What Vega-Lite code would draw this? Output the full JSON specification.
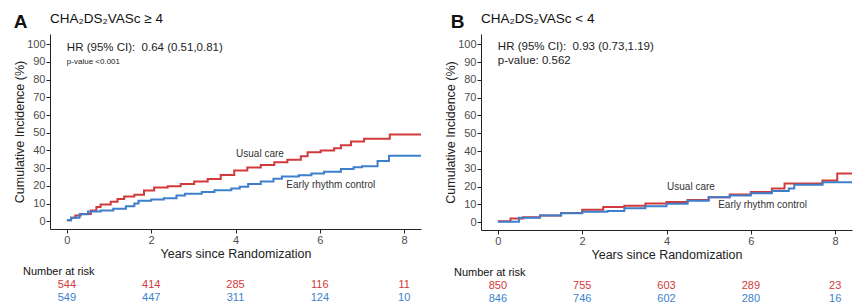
{
  "$schema": "https://vega.github.io/schema/vega-lite/v6.json",
  "background": "white",
  "padding": {"left": 13, "top": 11, "right": 2, "bottom": 0},
  "config": {
    "font": "Liberation Sans",
    "view": {"stroke": null},
    "axis": {
      "grid": false,
      "domainColor": "#222222",
      "tickColor": "#222222",
      "tickSize": 4,
      "labelColor": "#4d4d4d",
      "labelFontSize": 11,
      "labelOverlap": false,
      "titleFontSize": 12.5,
      "titleFontWeight": "normal",
      "titleColor": "#222222",
      "labelPadding": 1
    },
    "title": {"color": "#111111"}
  },
  "datasets": {
    "curvesA": [
      {"group": "Usual care", "t": 0, "v": 0.5},
      {"group": "Usual care", "t": 0.1, "v": 2},
      {"group": "Usual care", "t": 0.2, "v": 3.2},
      {"group": "Usual care", "t": 0.33, "v": 4.1},
      {"group": "Usual care", "t": 0.57, "v": 6},
      {"group": "Usual care", "t": 0.7, "v": 8},
      {"group": "Usual care", "t": 0.8, "v": 9.4},
      {"group": "Usual care", "t": 1.04, "v": 11},
      {"group": "Usual care", "t": 1.2, "v": 12.5},
      {"group": "Usual care", "t": 1.36, "v": 14},
      {"group": "Usual care", "t": 1.6, "v": 15},
      {"group": "Usual care", "t": 1.83, "v": 17.3},
      {"group": "Usual care", "t": 2.07, "v": 19},
      {"group": "Usual care", "t": 2.39, "v": 19.8},
      {"group": "Usual care", "t": 2.7, "v": 21},
      {"group": "Usual care", "t": 3.02, "v": 22.4},
      {"group": "Usual care", "t": 3.34, "v": 23.9},
      {"group": "Usual care", "t": 3.65, "v": 26.1},
      {"group": "Usual care", "t": 3.97, "v": 28.6},
      {"group": "Usual care", "t": 4.28, "v": 30.3},
      {"group": "Usual care", "t": 4.6, "v": 31.8},
      {"group": "Usual care", "t": 4.92, "v": 33.3},
      {"group": "Usual care", "t": 5.23, "v": 34.8},
      {"group": "Usual care", "t": 5.55, "v": 36.7},
      {"group": "Usual care", "t": 5.71, "v": 39},
      {"group": "Usual care", "t": 6.02, "v": 39.9},
      {"group": "Usual care", "t": 6.34, "v": 41.2},
      {"group": "Usual care", "t": 6.5, "v": 43},
      {"group": "Usual care", "t": 6.74, "v": 45},
      {"group": "Usual care", "t": 7.05, "v": 46.6},
      {"group": "Usual care", "t": 7.66, "v": 49},
      {"group": "Usual care", "t": 8.4, "v": 49},
      {"group": "Early rhythm control", "t": 0, "v": 0.5},
      {"group": "Early rhythm control", "t": 0.1, "v": 2},
      {"group": "Early rhythm control", "t": 0.3, "v": 4},
      {"group": "Early rhythm control", "t": 0.5, "v": 5.5},
      {"group": "Early rhythm control", "t": 0.8, "v": 6},
      {"group": "Early rhythm control", "t": 1.1, "v": 7},
      {"group": "Early rhythm control", "t": 1.4, "v": 8.5},
      {"group": "Early rhythm control", "t": 1.6, "v": 10},
      {"group": "Early rhythm control", "t": 1.7, "v": 11.5},
      {"group": "Early rhythm control", "t": 2.0, "v": 12.3},
      {"group": "Early rhythm control", "t": 2.3, "v": 13},
      {"group": "Early rhythm control", "t": 2.6, "v": 14.5},
      {"group": "Early rhythm control", "t": 2.8, "v": 15.5},
      {"group": "Early rhythm control", "t": 3.2, "v": 16.5},
      {"group": "Early rhythm control", "t": 3.5, "v": 17.5},
      {"group": "Early rhythm control", "t": 3.9, "v": 18.5},
      {"group": "Early rhythm control", "t": 4.1, "v": 19.5},
      {"group": "Early rhythm control", "t": 4.3, "v": 21},
      {"group": "Early rhythm control", "t": 4.6, "v": 22.5},
      {"group": "Early rhythm control", "t": 4.9, "v": 24},
      {"group": "Early rhythm control", "t": 5.1, "v": 25.3},
      {"group": "Early rhythm control", "t": 5.5, "v": 26},
      {"group": "Early rhythm control", "t": 5.8, "v": 27},
      {"group": "Early rhythm control", "t": 6.1, "v": 28},
      {"group": "Early rhythm control", "t": 6.5, "v": 29.5},
      {"group": "Early rhythm control", "t": 6.8, "v": 30.5},
      {"group": "Early rhythm control", "t": 7.0, "v": 31},
      {"group": "Early rhythm control", "t": 7.37, "v": 34},
      {"group": "Early rhythm control", "t": 7.64, "v": 37},
      {"group": "Early rhythm control", "t": 8.4, "v": 37}
    ],
    "curvesB": [
      {"group": "Usual care", "t": 0, "v": 0.5},
      {"group": "Usual care", "t": 0.3, "v": 2},
      {"group": "Usual care", "t": 0.6, "v": 2.8},
      {"group": "Usual care", "t": 1, "v": 3.8},
      {"group": "Usual care", "t": 1.5, "v": 5.2},
      {"group": "Usual care", "t": 2, "v": 7},
      {"group": "Usual care", "t": 2.5, "v": 8.5},
      {"group": "Usual care", "t": 3, "v": 9.3},
      {"group": "Usual care", "t": 3.5, "v": 10.5},
      {"group": "Usual care", "t": 4, "v": 11.3},
      {"group": "Usual care", "t": 4.5, "v": 12.5},
      {"group": "Usual care", "t": 5, "v": 14},
      {"group": "Usual care", "t": 5.5, "v": 15.5},
      {"group": "Usual care", "t": 6, "v": 17},
      {"group": "Usual care", "t": 6.5, "v": 19},
      {"group": "Usual care", "t": 6.8, "v": 21.8},
      {"group": "Usual care", "t": 7.7, "v": 23.5},
      {"group": "Usual care", "t": 8.05, "v": 27.3},
      {"group": "Usual care", "t": 8.4, "v": 27.3},
      {"group": "Early rhythm control", "t": 0, "v": 0.3},
      {"group": "Early rhythm control", "t": 0.5, "v": 2.5},
      {"group": "Early rhythm control", "t": 1, "v": 3.8},
      {"group": "Early rhythm control", "t": 1.5, "v": 5},
      {"group": "Early rhythm control", "t": 2, "v": 5.8},
      {"group": "Early rhythm control", "t": 2.6, "v": 6.3},
      {"group": "Early rhythm control", "t": 3, "v": 7.8},
      {"group": "Early rhythm control", "t": 3.5, "v": 9},
      {"group": "Early rhythm control", "t": 4, "v": 10.3},
      {"group": "Early rhythm control", "t": 4.5, "v": 12},
      {"group": "Early rhythm control", "t": 5, "v": 14},
      {"group": "Early rhythm control", "t": 5.5, "v": 15},
      {"group": "Early rhythm control", "t": 6, "v": 16.3},
      {"group": "Early rhythm control", "t": 6.5, "v": 17.5},
      {"group": "Early rhythm control", "t": 6.9, "v": 19},
      {"group": "Early rhythm control", "t": 7.03, "v": 21},
      {"group": "Early rhythm control", "t": 7.7, "v": 22.5},
      {"group": "Early rhythm control", "t": 8.4, "v": 22.5}
    ],
    "riskA": [
      {"group": "Usual care", "t": 0, "n": "544"},
      {"group": "Usual care", "t": 2, "n": "414"},
      {"group": "Usual care", "t": 4, "n": "285"},
      {"group": "Usual care", "t": 6, "n": "116"},
      {"group": "Usual care", "t": 8, "n": "11"},
      {"group": "Early rhythm control", "t": 0, "n": "549"},
      {"group": "Early rhythm control", "t": 2, "n": "447"},
      {"group": "Early rhythm control", "t": 4, "n": "311"},
      {"group": "Early rhythm control", "t": 6, "n": "124"},
      {"group": "Early rhythm control", "t": 8, "n": "10"}
    ],
    "riskB": [
      {"group": "Usual care", "t": 0, "n": "850"},
      {"group": "Usual care", "t": 2, "n": "755"},
      {"group": "Usual care", "t": 4, "n": "603"},
      {"group": "Usual care", "t": 6, "n": "289"},
      {"group": "Usual care", "t": 8, "n": "23"},
      {"group": "Early rhythm control", "t": 0, "n": "846"},
      {"group": "Early rhythm control", "t": 2, "n": "746"},
      {"group": "Early rhythm control", "t": 4, "n": "602"},
      {"group": "Early rhythm control", "t": 6, "n": "280"},
      {"group": "Early rhythm control", "t": 8, "n": "16"}
    ]
  },
  "spacing": 19,
  "hconcat": [
    {
      "title": {"text": "A", "anchor": "start", "frame": "bounds", "fontSize": 19, "fontWeight": "bold", "dy": 20, "offset": 0},
      "spacing": 6,
      "vconcat": [
        {
          "width": 371,
          "height": 195,
          "title": {"text": "CHA₂DS₂VASc ≥ 4", "anchor": "start", "frame": "group", "fontSize": 13.5, "fontWeight": "normal", "offset": 9},
          "encoding": {
            "x": {"field": "t", "type": "quantitative", "scale": {"domain": [-0.4, 8.4], "nice": false, "zero": false}, "axis": {"values": [0, 2, 4, 6, 8], "title": "Years since Randomization", "titlePadding": 2}},
            "y": {"field": "v", "type": "quantitative", "scale": {"domain": [-4.4, 105.8], "nice": false, "zero": false}, "axis": {"values": [0, 10, 20, 30, 40, 50, 60, 70, 80, 90, 100], "title": "Cumulative Incidence (%)", "titlePadding": 0}}
          },
          "layer": [
            {
              "data": {"name": "curvesA"},
              "mark": {"type": "line", "interpolate": "step-after", "strokeWidth": 2},
              "encoding": {
                "color": {"field": "group", "type": "nominal", "scale": {"domain": ["Usual care", "Early rhythm control"], "range": ["#d13a3a", "#3d7fcc"]}, "legend": null}
              }
            },
            {
              "data": {"values": [{"label": "Usual care", "t": 4.58, "v": 38}, {"label": "Early rhythm control", "t": 6.26, "v": 20.7}]},
              "mark": {"type": "text", "fontSize": 10, "color": "#333333"},
              "encoding": {"text": {"field": "label"}}
            },
            {
              "data": {"values": [{"label": "HR (95% CI):\u00a0 0.64 (0.51,0.81)", "t": 0, "v": 98}]},
              "mark": {"type": "text", "fontSize": 11.5, "align": "left", "color": "#222222"},
              "encoding": {"text": {"field": "label"}}
            },
            {
              "data": {"values": [{"label": "p-value <0.001", "t": 0, "v": 90}]},
              "mark": {"type": "text", "fontSize": 8, "align": "left", "color": "#222222"},
              "encoding": {"text": {"field": "label"}}
            }
          ]
        },
        {
          "width": 371,
          "height": 26,
          "title": {"text": "Number at risk", "anchor": "start", "frame": "group", "fontSize": 11, "fontWeight": "normal", "dx": -27, "offset": 1},
          "data": {"name": "riskA"},
          "mark": {"type": "text", "fontSize": 11},
          "encoding": {
            "x": {"field": "t", "type": "quantitative", "scale": {"domain": [-0.4, 8.4], "nice": false, "zero": false}, "axis": null},
            "y": {"field": "group", "type": "nominal", "scale": {"domain": ["Usual care", "Early rhythm control"], "paddingInner": 0, "paddingOuter": 0}, "axis": null},
            "text": {"field": "n"},
            "color": {"field": "group", "type": "nominal", "scale": {"domain": ["Usual care", "Early rhythm control"], "range": ["#cf4a4a", "#4a88c8"]}, "legend": null}
          }
        }
      ]
    },
    {
      "title": {"text": "B", "anchor": "start", "frame": "bounds", "fontSize": 19, "fontWeight": "bold", "dy": 20, "offset": 0, "dx": 6},
      "spacing": 6,
      "vconcat": [
        {
          "width": 371,
          "height": 196,
          "title": {"text": "CHA₂DS₂VASc < 4", "anchor": "start", "frame": "group", "fontSize": 13.5, "fontWeight": "normal", "offset": 9},
          "encoding": {
            "x": {"field": "t", "type": "quantitative", "scale": {"domain": [-0.4, 8.4], "nice": false, "zero": false}, "axis": {"values": [0, 2, 4, 6, 8], "title": "Years since Randomization", "titlePadding": 2}},
            "y": {"field": "v", "type": "quantitative", "scale": {"domain": [-4.4, 105.8], "nice": false, "zero": false}, "axis": {"values": [0, 10, 20, 30, 40, 50, 60, 70, 80, 90, 100], "title": "Cumulative Incidence (%)", "titlePadding": 0}}
          },
          "layer": [
            {
              "data": {"name": "curvesB"},
              "mark": {"type": "line", "interpolate": "step-after", "strokeWidth": 2},
              "encoding": {
                "color": {"field": "group", "type": "nominal", "scale": {"domain": ["Usual care", "Early rhythm control"], "range": ["#d13a3a", "#3d7fcc"]}, "legend": null}
              }
            },
            {
              "data": {"values": [{"label": "Usual care", "t": 4.58, "v": 19.7}, {"label": "Early rhythm control", "t": 6.28, "v": 9.8}]},
              "mark": {"type": "text", "fontSize": 10, "color": "#333333"},
              "encoding": {"text": {"field": "label"}}
            },
            {
              "data": {"values": [{"label": "HR (95% CI):\u00a0 0.93 (0.73,1.19)", "t": 0, "v": 98.5}, {"label": "p-value: 0.562", "t": 0, "v": 90.5}]},
              "mark": {"type": "text", "fontSize": 11.5, "align": "left", "color": "#222222"},
              "encoding": {"text": {"field": "label"}}
            }
          ]
        },
        {
          "width": 371,
          "height": 26,
          "title": {"text": "Number at risk", "anchor": "start", "frame": "group", "fontSize": 11, "fontWeight": "normal", "dx": -27, "offset": 1},
          "data": {"name": "riskB"},
          "mark": {"type": "text", "fontSize": 11},
          "encoding": {
            "x": {"field": "t", "type": "quantitative", "scale": {"domain": [-0.4, 8.4], "nice": false, "zero": false}, "axis": null},
            "y": {"field": "group", "type": "nominal", "scale": {"domain": ["Usual care", "Early rhythm control"], "paddingInner": 0, "paddingOuter": 0}, "axis": null},
            "text": {"field": "n"},
            "color": {"field": "group", "type": "nominal", "scale": {"domain": ["Usual care", "Early rhythm control"], "range": ["#cf4a4a", "#4a88c8"]}, "legend": null}
          }
        }
      ]
    }
  ]
}
